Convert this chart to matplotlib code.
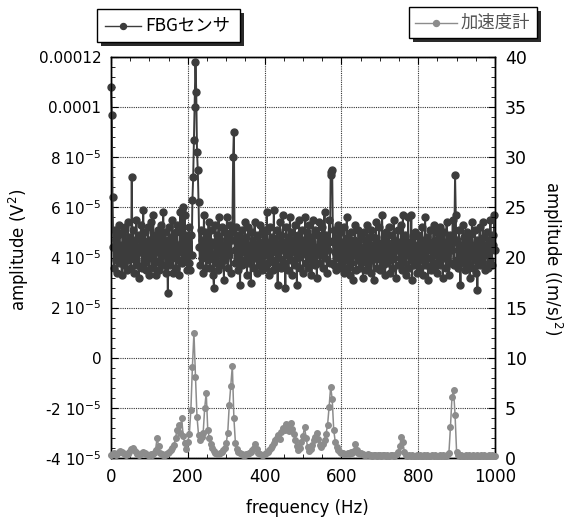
import numpy as np
import matplotlib
matplotlib.use("Agg")
import matplotlib.pyplot as plt
from matplotlib.ticker import AutoMinorLocator, MultipleLocator
from matplotlib.patches import Rectangle
from matplotlib.lines import Line2D

plt.rcParams['font.family'] = ['DejaVu Sans', 'Noto Sans CJK JP']

# ---------------- data ----------------
fbg_step_hz = 2    # FBG spectrum bins every 2 Hz, 0..1000 Hz
acc_step_hz = 4    # accelerometer bins every 4 Hz, 0..1000 Hz

# FBG sensor amplitude, in units of 1e-6 V^2 (left axis); 25 bins (50 Hz) per row
fbg_uV2 = [
    108, 97, 64, 44, 36, 51, 39, 47, 34, 49, 41, 53, 38, 45, 33, 50, 42, 37, 52, 40, 46, 35, 54, 39, 48,
    43, 36, 72, 41, 51, 34, 47, 39, 55, 37, 44, 32, 49, 42, 53, 36, 46, 59, 38, 50, 35, 45, 41, 52, 33,
    47, 40, 54, 36, 44, 57, 38, 49, 33, 46, 42, 51, 35, 48, 39, 53, 37, 45, 58, 41, 50, 34, 47, 43, 26,
    44, 52, 37, 48, 40, 55, 34, 46, 41, 50, 36, 53, 39, 45, 33, 58, 42, 59, 38, 60, 44, 57, 40, 49, 35,
    46, 38, 52, 35, 49, 41, 63, 72, 87, 100, 118, 106, 82, 75, 62, 44, 37, 51, 40, 47, 34, 57, 42, 50, 36,
    48, 39, 54, 43, 36, 51, 41, 46, 33, 28, 45, 53, 38, 49, 35, 56, 42, 47, 37, 52, 40, 44, 31, 50, 39,
    45, 56, 36, 48, 41, 53, 34, 47, 50, 80, 90, 43, 38, 52, 40, 46, 35, 49, 29, 44, 51, 37, 47, 42, 54,
    39, 48, 33, 45, 52, 38, 43, 30, 50, 41, 47, 36, 54, 40, 45, 34, 49, 42, 37, 53, 39, 46, 35, 51, 43,
    36, 50, 41, 58, 38, 46, 33, 52, 44, 39, 48, 35, 59, 42, 47, 37, 51, 29, 45, 40, 54, 36, 49, 43, 57,
    38, 46, 28, 52, 41, 48, 35, 44, 56, 39, 50, 33, 47, 42, 53, 37, 45, 29, 49, 40, 55, 36, 46, 41, 51,
    34, 47, 42, 56, 38, 50, 36, 45, 53, 40, 48, 33, 46, 55, 39, 51, 37, 44, 32, 49, 42, 54, 38, 47, 41,
    52, 36, 45, 58, 40, 49, 34, 47, 43, 55, 38, 74, 73, 75, 46, 37, 51, 42, 35, 48, 40, 53, 36, 44, 50,
    37, 46, 40, 52, 34, 45, 39, 56, 36, 48, 42, 33, 50, 38, 44, 31, 47, 41, 53, 35, 46, 39, 51, 43, 36,
    49, 38, 44, 32, 50, 40, 47, 35, 53, 41, 37, 48, 43, 34, 51, 39, 45, 31, 48, 42, 54, 36, 46, 40, 52,
    35, 45, 39, 57, 37, 48, 42, 33, 50, 38, 46, 41, 52, 34, 44, 39, 49, 36, 55, 40, 47, 32, 45, 43, 51,
    37, 46, 40, 53, 35, 57, 42, 38, 49, 33, 46, 41, 56, 36, 44, 39, 57, 31, 48, 42, 37, 50, 40, 45, 34,
    49, 41, 36, 47, 39, 52, 33, 45, 42, 56, 37, 48, 40, 31, 46, 43, 51, 35, 44, 38, 53, 36, 47, 41, 50,
    34, 45, 39, 52, 37, 48, 42, 32, 50, 40, 46, 36, 54, 41, 44, 33, 49, 38, 47, 43, 55, 37, 46, 73, 57,
    39, 47, 36, 51, 42, 29, 45, 38, 53, 40, 48, 35, 46, 42, 50, 37, 44, 32, 49, 41, 54, 36, 45, 39, 51,
    34, 47, 27, 44, 40, 52, 37, 46, 42, 54, 38, 48, 35, 45, 41, 50, 36, 47, 39, 55, 43, 37, 49, 45, 57,
    43,
]

# accelerometer amplitude, (m/s)^2 (right axis); 25 bins (100 Hz) per row
accel_ms2 = [
    0.3, 0.4, 0.5, 0.3, 0.4, 0.6, 0.7, 0.6, 0.5, 0.4, 0.3, 0.4, 0.6, 0.9, 1.0, 0.8, 0.6, 0.4, 0.3, 0.4, 0.5, 0.6, 0.5, 0.4, 0.3,
    0.3, 0.4, 0.3, 0.5, 0.8, 2.0, 1.2, 0.5, 0.4, 0.3, 0.3, 0.4, 0.5, 0.6, 0.8, 1.0, 1.3, 2.0, 2.8, 3.3, 2.5, 4.0, 2.2, 1.5, 0.9,
    1.6, 2.4, 4.8, 9.1, 12.5, 8.1, 4.1, 2.3, 1.8, 2.1, 2.5, 5.0, 6.5, 2.8, 2.0, 1.4, 1.0, 0.7, 0.5, 0.4, 0.4, 0.5, 0.6, 0.8, 1.0,
    1.5, 2.5, 5.3, 7.2, 9.2, 4.0, 1.5, 0.9, 0.6, 0.5, 0.4, 0.3, 0.3, 0.4, 0.4, 0.5, 0.6, 0.8, 1.0, 1.4, 0.9, 0.5, 0.4, 0.3, 0.3,
    0.4, 0.5, 0.6, 0.8, 1.0, 1.2, 1.5, 1.8, 2.0, 2.3, 1.9, 2.6, 3.0, 2.8, 3.4, 3.1, 2.7, 3.5, 2.9, 2.4, 1.8, 1.2, 0.8, 1.0, 1.6,
    2.2, 3.1, 2.0, 1.1, 0.7, 0.9, 1.3, 1.8, 2.1, 2.5, 1.9, 1.3, 1.1, 1.4, 1.8, 2.4, 3.3, 5.1, 7.1, 5.9, 2.8, 1.6, 1.1, 0.8, 0.6,
    0.5, 0.5, 0.4, 0.4, 0.5, 0.4, 0.6, 0.5, 0.7, 1.4, 0.8, 0.5, 0.4, 0.5, 0.4, 0.3, 0.3, 0.4, 0.3, 0.3, 0.2, 0.3, 0.3, 0.2, 0.3,
    0.3, 0.2, 0.3, 0.3, 0.2, 0.3, 0.2, 0.3, 0.3, 0.2, 0.3, 0.4, 0.6, 1.2, 2.1, 1.6, 0.6, 0.3, 0.2, 0.3, 0.2, 0.3, 0.2, 0.2, 0.3,
    0.2, 0.3, 0.2, 0.2, 0.3, 0.2, 0.3, 0.2, 0.2, 0.3, 0.2, 0.3, 0.2, 0.2, 0.3, 0.2, 0.3, 0.2, 0.2, 0.3, 0.5, 3.1, 6.1, 6.8, 4.3,
    0.6, 0.3, 0.2, 0.3, 0.2, 0.2, 0.3, 0.2, 0.3, 0.2, 0.2, 0.3, 0.2, 0.3, 0.2, 0.2, 0.3, 0.2, 0.3, 0.2, 0.2, 0.3, 0.2, 0.3, 0.2,
    0.2,
]

left_ticks = [-4e-5, -2e-5, 0, 2e-5, 4e-5, 6e-5, 8e-5, 1e-4, 1.2e-4]
left_tick_labels = [r"-4 10$^{-5}$", r"-2 10$^{-5}$", "0", r"2 10$^{-5}$", r"4 10$^{-5}$",
                    r"6 10$^{-5}$", r"8 10$^{-5}$", "0.0001", "0.00012"]
right_ticks = [0, 5, 10, 15, 20, 25, 30, 35, 40]
x_ticks = [0, 200, 400, 600, 800, 1000]

series_names = ["FBGセンサ", "加速度計"]

# ---------------- plot ----------------
W, H = 564, 517
fig = plt.figure(figsize=(W / 100, H / 100), dpi=100)

def fx(x):
    return x / W

def fy(y):
    return 1 - y / H

L, R, T, B = 111, 495, 57, 458
ax = fig.add_axes([fx(L), fy(B), (R - L) / W, (B - T) / H])
ax2 = ax.twinx()

fbg_color = '#3c3c3c'
acc_color = '#8c8c8c'

f_fbg = np.arange(len(fbg_uV2)) * fbg_step_hz
f_acc = np.arange(len(accel_ms2)) * acc_step_hz

ax.plot(f_fbg, np.array(fbg_uV2) * 1e-6, color=fbg_color, lw=1.4, marker='o', ms=5.0,
        mfc=fbg_color, mec=fbg_color, clip_on=False, zorder=3)
ax2.plot(f_acc, accel_ms2, color=acc_color, lw=1.1, marker='o', ms=4.0,
         mfc=acc_color, mec=acc_color, clip_on=False, zorder=3)

ax.set_xlim(0, 1000)
ax.set_ylim(-4e-5, 1.2e-4)
ax2.set_ylim(0, 40)

ax.set_xticks(x_ticks)
ax.xaxis.set_minor_locator(MultipleLocator(50))
ax.set_yticks(left_ticks)
ax.set_yticklabels(left_tick_labels)
ax.yaxis.set_minor_locator(AutoMinorLocator(5))
ax2.set_yticks(right_ticks)
ax2.yaxis.set_minor_locator(AutoMinorLocator(5))

ax.tick_params(axis='x', which='both', direction='in', top=True, bottom=True, labelsize=12, pad=7)
ax.tick_params(axis='x', which='major', length=5)
ax.tick_params(axis='x', which='minor', length=3)
ax.tick_params(axis='y', which='both', direction='in', labelsize=11, pad=7)
ax.tick_params(axis='y', which='major', length=5)
ax.tick_params(axis='y', which='minor', length=3)
ax2.tick_params(axis='y', which='both', direction='in', labelsize=12.5, pad=7)
ax2.tick_params(axis='y', which='major', length=5)
ax2.tick_params(axis='y', which='minor', length=3)

ax.grid(True, which='major', linestyle=(0, (1, 1)), color='#333333', linewidth=0.8)
ax.set_axisbelow(True)
for a in (ax, ax2):
    for s in a.spines.values():
        s.set_linewidth(1.0)
        s.set_color('black')

fig.text(fx(307), fy(508), "frequency (Hz)", ha='center', va='center', fontsize=12)
fig.text(fx(19), fy(250), r"amplitude (V$^2$)", ha='center', va='center', fontsize=12, rotation=90)
fig.text(fx(552), fy(258), r"amplitude ((m/s)$^2$)", ha='center', va='center', fontsize=12, rotation=270)

# legend boxes
def legend_box(x0, y0, x1, y1, line_x0, line_x1, text_x, label, color, text_color):
    fig.add_artist(Rectangle((fx(x0 + 4), fy(y1 + 4)), (x1 - x0) / W, (y1 - y0) / H,
                             transform=fig.transFigure, facecolor='#2a2a2a', edgecolor='none'))
    fig.add_artist(Rectangle((fx(x0), fy(y1)), (x1 - x0) / W, (y1 - y0) / H,
                             transform=fig.transFigure, facecolor='white', edgecolor='black', lw=1.0))
    yc = (y0 + y1) / 2
    fig.add_artist(Line2D([fx(line_x0), fx(line_x1)], [fy(yc), fy(yc)], transform=fig.transFigure,
                          color=color, lw=1.0))
    fig.add_artist(Line2D([fx((line_x0 + line_x1) / 2)], [fy(yc)], transform=fig.transFigure,
                          color=color, marker='o', ms=4.3, ls='none'))
    fig.text(fx(text_x), fy(yc), label, ha='left', va='center', fontsize=12.5, color=text_color,
             family=['Noto Sans CJK JP', 'DejaVu Sans'])

legend_box(97, 9, 240, 42, 105, 141, 145, series_names[0], fbg_color, 'black')
legend_box(409, 7, 537, 38, 415, 457, 461, series_names[1], acc_color, '#555555')

fig.savefig("out.png", dpi=100)
